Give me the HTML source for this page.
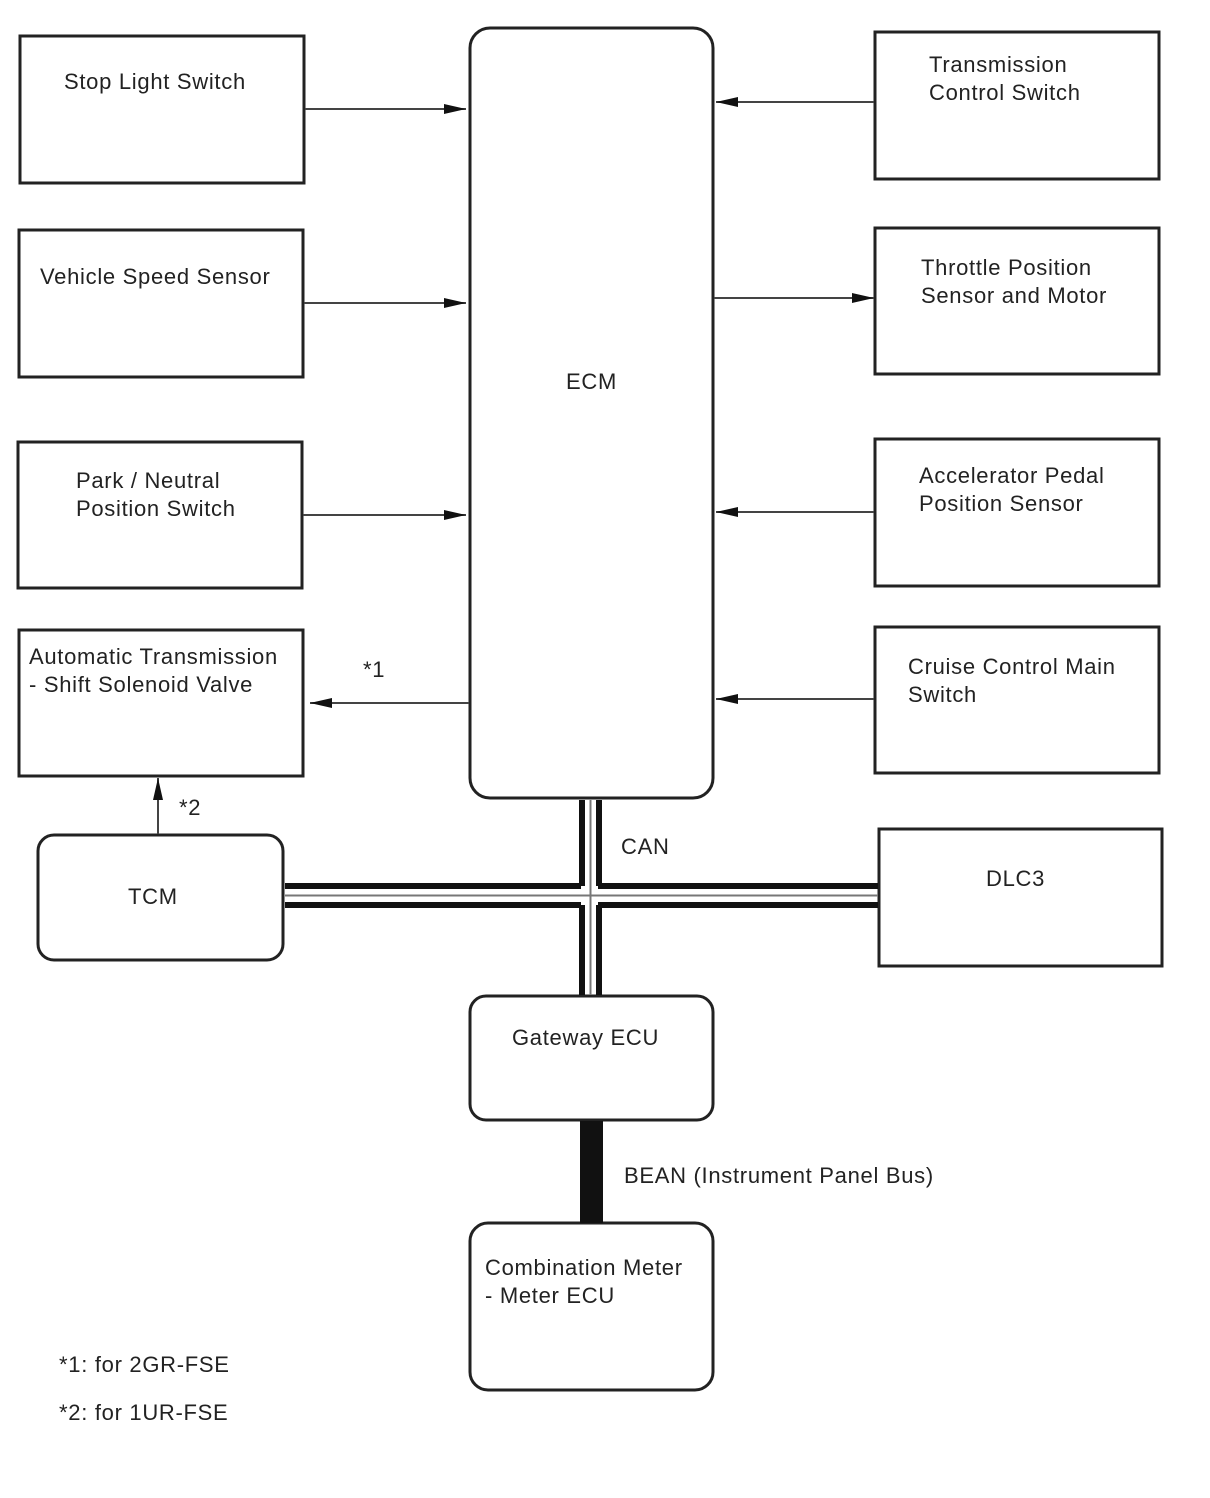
<!DOCTYPE html>
<html><head><meta charset="utf-8"><style>
html,body{margin:0;padding:0;background:#fff;}
svg{display:block;}
text{font-family:"Liberation Sans",Arial,sans-serif;font-size:22px;letter-spacing:0.7px;fill:#222;}
</style></head><body>
<svg width="1210" height="1498" viewBox="0 0 1210 1498" xmlns="http://www.w3.org/2000/svg">
<defs>
<marker id="a" markerWidth="22" markerHeight="12" refX="22" refY="6" orient="auto" markerUnits="userSpaceOnUse"><path d="M0,1 L22,6 L0,11 z" fill="#111"/></marker>
</defs>
<g fill="none" stroke="#222" stroke-width="3">
<rect x="20" y="36" width="284" height="147"/>
<rect x="19" y="230" width="284" height="147"/>
<rect x="18" y="442" width="284" height="146"/>
<rect x="19" y="630" width="284" height="146"/>
<rect x="38" y="835" width="245" height="125" rx="16"/>
<rect x="470" y="28" width="243" height="770" rx="20"/>
<rect x="875" y="32" width="284" height="147"/>
<rect x="875" y="228" width="284" height="146"/>
<rect x="875" y="439" width="284" height="147"/>
<rect x="875" y="627" width="284" height="146"/>
<rect x="879" y="829" width="283" height="137"/>
<rect x="470" y="996" width="243" height="124" rx="16"/>
<rect x="470" y="1223" width="243" height="167" rx="18"/>
</g>
<g fill="#111">
<rect x="579" y="800" width="6" height="86"/>
<rect x="596" y="800" width="6" height="86"/>
<rect x="579" y="905" width="6" height="90"/>
<rect x="596" y="905" width="6" height="90"/>
<rect x="285" y="883" width="296" height="6"/>
<rect x="285" y="902" width="296" height="6"/>
<rect x="598" y="883" width="280" height="6"/>
<rect x="598" y="902" width="280" height="6"/>
<rect x="580" y="1121" width="23" height="102"/>
</g>
<g stroke="#777" stroke-width="2">
<line x1="590.5" y1="800" x2="590.5" y2="995"/>
<line x1="285" y1="895.5" x2="878" y2="895.5"/>
</g>
<g stroke="#444" stroke-width="2" marker-end="url(#a)">
<line x1="305" y1="109" x2="466" y2="109"/>
<line x1="304" y1="303" x2="466" y2="303"/>
<line x1="303" y1="515" x2="466" y2="515"/>
<line x1="469" y1="703" x2="310" y2="703"/>
<line x1="874" y1="102" x2="716" y2="102"/>
<line x1="714" y1="298" x2="874" y2="298"/>
<line x1="874" y1="512" x2="716" y2="512"/>
<line x1="874" y1="699" x2="716" y2="699"/>
<line x1="158" y1="834" x2="158" y2="778"/>
</g>
<text x="64" y="89">Stop Light Switch</text>
<text x="40" y="284">Vehicle Speed Sensor</text>
<text x="76" y="488">Park / Neutral</text>
<text x="76" y="516">Position Switch</text>
<text x="29" y="664">Automatic Transmission</text>
<text x="29" y="692">- Shift Solenoid Valve</text>
<text x="128" y="904">TCM</text>
<text x="566" y="389">ECM</text>
<text x="363" y="677">*1</text>
<text x="179" y="815">*2</text>
<text x="929" y="72">Transmission</text>
<text x="929" y="100">Control Switch</text>
<text x="921" y="275">Throttle Position</text>
<text x="921" y="303">Sensor and Motor</text>
<text x="919" y="483">Accelerator Pedal</text>
<text x="919" y="511">Position Sensor</text>
<text x="908" y="674">Cruise Control Main</text>
<text x="908" y="702">Switch</text>
<text x="986" y="886">DLC3</text>
<text x="621" y="854">CAN</text>
<text x="512" y="1045">Gateway ECU</text>
<text x="624" y="1183">BEAN (Instrument Panel Bus)</text>
<text x="485" y="1275">Combination Meter</text>
<text x="485" y="1303">- Meter ECU</text>
<text x="59" y="1372">*1: for 2GR-FSE</text>
<text x="59" y="1420">*2: for 1UR-FSE</text>
</svg>
</body></html>
